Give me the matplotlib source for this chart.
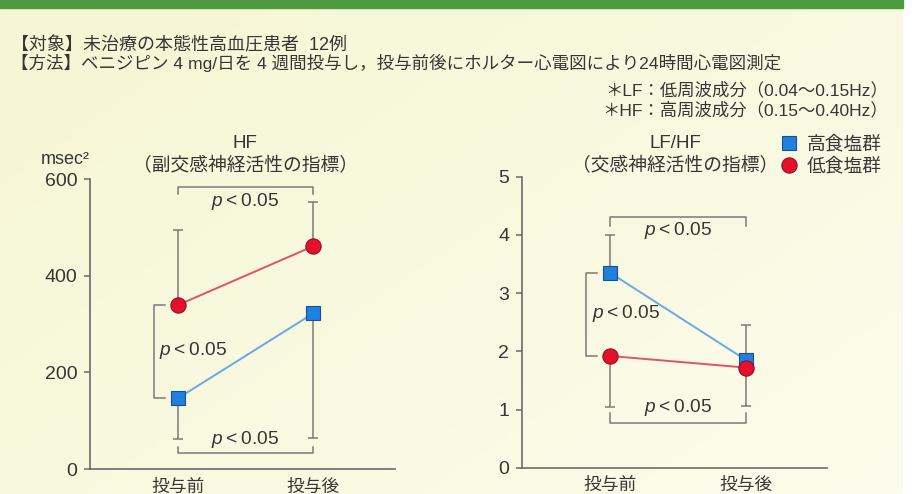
import numpy as np
import matplotlib
matplotlib.use("Agg")
import matplotlib.pyplot as plt
from matplotlib.patches import Rectangle
from matplotlib.lines import Line2D

plt.rcParams['font.family'] = ['Liberation Sans', 'Noto Sans CJK JP', 'DejaVu Sans']
plt.rcParams['mathtext.fontset'] = 'custom'
plt.rcParams['mathtext.it'] = 'Liberation Sans:italic'
plt.rcParams['mathtext.rm'] = 'Liberation Sans'

# ---- data -------------------------------------------------------------
phases = ['投与前', '投与後']
groups = ['高食塩群', '低食塩群']

hf_high = [146, 322]          # msec^2
hf_high_sd = [83, 257]
hf_low = [339, 461]
hf_low_sd = [155, 92]

lfhf_high = [3.35, 1.85]
lfhf_high_sd = [0.65, 0.61]
lfhf_low = [1.92, 1.72]
lfhf_low_sd = [0.87, 0.66]

hf_ticks = [0, 200, 400, 600]
lfhf_ticks = [0, 1, 2, 3, 4, 5]

# ---- style ------------------------------------------------------------
W, H = 916, 494
TXT = '#363636'
AX = '#6a6a6a'
ERR = '#7a7a7a'
BLUE = '#1f80e0'
BLUE_EDGE = '#1d4f8f'
BLUE_LINE = '#6aa8e4'
RED = '#e5102c'
RED_EDGE = '#8c1422'
RED_LINE = '#e2506a'
PVAL = r'$p$' + '\u2009<\u20090.05'
PSIZE = 13.8


def fx(x):
    return x / W


def fy(y):
    return 1 - y / H


fig = plt.figure(figsize=(W / 100, H / 100), dpi=100)
fig.patch.set_facecolor('white')

# cream panel with a soft gradient and the green header strip
bg = fig.add_axes([0, 0, 1, 1])
bg.set_xlim(0, W)
bg.set_ylim(H, 0)
bg.axis('off')
gx = np.linspace(0, 1, 200)
gy = np.linspace(0, 1, 120)
GX, GY = np.meshgrid(gx, gy)
t = np.clip(0.55 * GX + 0.45 * GY, 0, 1)[..., None]
c0 = np.array([246, 246, 212]) / 255
c1 = np.array([252, 252, 236]) / 255
grad = c0 * (1 - t) + c1 * t
bg.imshow(grad, extent=[0, 903, H, 0], aspect='auto', zorder=0)
bg.add_patch(Rectangle((0, 0), 903, 8, color='#4c9b3e', zorder=1))

# header text
fig.text(fx(11), fy(46), '【対象】未治療の本態性高血圧患者  12例', fontsize=13,
         color=TXT, va='center', ha='left')
fig.text(fx(11), fy(63), '【方法】ベニジピン 4 mg/日を 4 週間投与し，投与前後にホルター心電図により24時間心電図測定',
         fontsize=12.6, color=TXT, va='center', ha='left')
fig.text(fx(888), fy(90), '＊LF：低周波成分（0.04～0.15Hz）', fontsize=12.5,
         color=TXT, va='center', ha='right')
fig.text(fx(888), fy(110), '＊HF：高周波成分（0.15～0.40Hz）', fontsize=12.5,
         color=TXT, va='center', ha='right')


def make_axes(left, right, top, bottom, x_pre, x_post, ymax, ticks):
    ax = fig.add_axes([fx(left), fy(bottom), fx(right - left), (bottom - top) / H])
    ax.set_facecolor('none')
    unit = x_post - x_pre
    ax.set_xlim((left - x_pre) / unit, (right - x_pre) / unit)
    ax.set_ylim(0, ymax)
    for s in ('top', 'right'):
        ax.spines[s].set_visible(False)
    for s in ('left', 'bottom'):
        ax.spines[s].set_color(AX)
        ax.spines[s].set_linewidth(1.2)
    ax.set_yticks(ticks)
    ax.tick_params(axis='y', direction='out', length=4, width=1.1, color=AX,
                   labelsize=14, labelcolor=TXT, pad=5)
    ax.set_xticks([0, 1], phases)
    ax.tick_params(axis='x', length=0, labelsize=12.8, labelcolor=TXT, pad=7)
    return ax


def draw_series(ax, high, high_sd, high_up, low, low_sd, low_up):
    x = np.array([0, 1])
    for vals, sd, up in ((high, high_sd, high_up), (low, low_sd, low_up)):
        sd = np.array(sd)
        z = np.zeros_like(sd)
        yerr = [z, sd] if up else [sd, z]
        ax.errorbar(x, vals, yerr=yerr, fmt='none', ecolor=ERR, elinewidth=1.1,
                    capsize=3.6, capthick=1.1, zorder=2)
    ax.plot(x, high, color=BLUE_LINE, lw=1.4, zorder=3)
    ax.plot(x, low, color=RED_LINE, lw=1.4, zorder=3)
    ax.plot(x, high, ls='none', marker='s', ms=10, mfc=BLUE, mec=BLUE_EDGE,
            mew=0.8, zorder=4)
    ax.plot(x, low, ls='none', marker='o', ms=11, mfc=RED, mec=RED_EDGE,
            mew=0.8, zorder=5)


def bracket_h(ax, y, y_end):
    ax.plot([0, 0, 1, 1], [y_end, y, y, y_end], color=ERR, lw=1.1, zorder=1)


def bracket_v(ax, x, x_end, y0, y1):
    ax.plot([x_end, x, x, x_end], [y0, y0, y1, y1], color=ERR, lw=1.1, zorder=1)


# ---- HF panel ---------------------------------------------------------
ax1 = make_axes(90, 395, 179, 469, 177.7, 313.3, 600, hf_ticks)
draw_series(ax1, hf_high, hf_high_sd, False, hf_low, hf_low_sd, True)
bracket_h(ax1, 583, 569)
bracket_h(ax1, 33, 45)
bracket_v(ax1, -0.175, -0.095, hf_low[0], hf_high[0])
ax1.text(0.5, 553, PVAL, ha='center', va='center', fontsize=PSIZE, color=TXT)
ax1.text(0.5, 61, PVAL, ha='center', va='center', fontsize=PSIZE, color=TXT)
ax1.text(-0.135, 245, PVAL, ha='left', va='center', fontsize=PSIZE, color=TXT)
fig.text(fx(245), fy(143), 'HF', ha='center', va='center', fontsize=13.5, color=TXT)
fig.text(fx(245), fy(166), '（副交感神経活性の指標）', ha='center', va='center',
         fontsize=13.5, color=TXT)
fig.text(fx(90), fy(159), 'msec²', ha='right', va='center', fontsize=13, color=TXT)

# ---- LF/HF panel ------------------------------------------------------
ax2 = make_axes(521.7, 826.7, 176.7, 467.7, 610, 746, 5, lfhf_ticks)
draw_series(ax2, lfhf_high, lfhf_high_sd, True, lfhf_low, lfhf_low_sd, False)
bracket_h(ax2, 4.31, 4.15)
bracket_h(ax2, 0.77, 0.94)
bracket_v(ax2, -0.176, -0.098, lfhf_high[0], lfhf_low[0])
ax2.text(0.5, 4.07, PVAL, ha='center', va='center', fontsize=PSIZE, color=TXT)
ax2.text(0.5, 1.03, PVAL, ha='center', va='center', fontsize=PSIZE, color=TXT)
ax2.text(-0.13, 2.65, PVAL, ha='left', va='center', fontsize=PSIZE, color=TXT)
fig.text(fx(675), fy(143), 'LF/HF', ha='center', va='center', fontsize=13.5, color=TXT)
fig.text(fx(675), fy(166), '（交感神経活性の指標）', ha='center', va='center',
         fontsize=13.5, color=TXT)

# legend
handles = [
    Line2D([], [], ls='none', marker='s', ms=10, mfc=BLUE, mec=BLUE_EDGE, mew=0.8),
    Line2D([], [], ls='none', marker='o', ms=11, mfc=RED, mec=RED_EDGE, mew=0.8),
]
fig.legend(handles, groups, loc='upper left', bbox_to_anchor=(fx(780), fy(136)),
           frameon=False, fontsize=13.5, labelcolor=TXT, handlelength=1.0,
           handletextpad=0.45, labelspacing=0.2, borderaxespad=0, borderpad=0)

fig.savefig('out.png', dpi=100, facecolor=fig.get_facecolor())
